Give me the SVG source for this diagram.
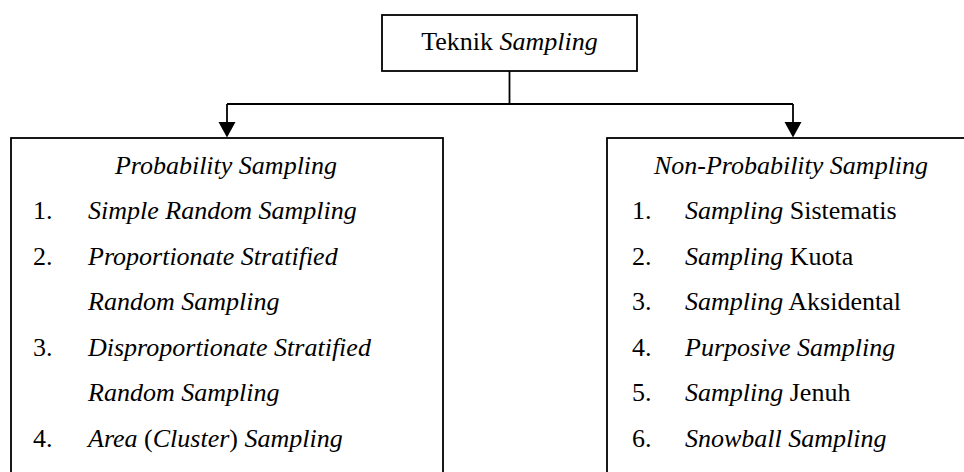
<svg xmlns="http://www.w3.org/2000/svg" width="964" height="472" viewBox="0 0 964 472">
<style>
text{font-family:"Liberation Serif","Times New Roman",serif;font-size:26px;fill:#000}
.i{font-style:italic}
.box{fill:#fff;stroke:#000;stroke-width:1.8}
.ln{fill:none;stroke:#000;stroke-width:1.8}
.ah{fill:#000}
</style>
<g id="connectors">
<path class="ln" d="M509.5,71 V104"/>
<path class="ln" d="M227,104 H793"/>
<path class="ln" d="M227,104 V123"/>
<path class="ln" d="M793,104 V123"/>
<path class="ah" d="M218.5,122 L235.5,122 L227,137.5 Z"/>
<path class="ah" d="M784.5,122 L801.5,122 L793,137.5 Z"/>
</g>
<g id="root">
<rect class="box" x="382" y="15" width="255" height="56"/>
<text x="509.5" y="50" text-anchor="middle">Teknik <tspan class="i">Sampling</tspan></text>
</g>
<g id="probability">
<rect class="box" x="11" y="138" width="432" height="350"/>
<text class="i" x="226" y="174" text-anchor="middle">Probability Sampling</text>
<text x="33" y="219">1.</text><text class="i" x="88" y="219">Simple Random Sampling</text>
<text x="33" y="264.5">2.</text><text class="i" x="88" y="264.5">Proportionate Stratified</text>
<text class="i" x="88" y="310">Random Sampling</text>
<text x="33" y="355.5">3.</text><text class="i" x="88" y="355.5">Disproportionate Stratified</text>
<text class="i" x="88" y="401">Random Sampling</text>
<text x="33" y="446.5">4.</text><text x="88" y="446.5"><tspan class="i">Area</tspan> (<tspan class="i">Cluster</tspan>) <tspan class="i">Sampling</tspan></text>
</g>
<g id="nonprobability">
<rect class="box" x="607" y="138" width="372" height="350"/>
<text class="i" x="791" y="174" text-anchor="middle">Non-Probability Sampling</text>
<text x="632" y="219">1.</text><text x="685" y="219"><tspan class="i">Sampling</tspan> Sistematis</text>
<text x="632" y="264.5">2.</text><text x="685" y="264.5"><tspan class="i">Sampling</tspan> Kuota</text>
<text x="632" y="310">3.</text><text x="685" y="310"><tspan class="i">Sampling</tspan> Aksidental</text>
<text x="632" y="355.5">4.</text><text class="i" x="685" y="355.5">Purposive Sampling</text>
<text x="632" y="401">5.</text><text x="685" y="401"><tspan class="i">Sampling</tspan> Jenuh</text>
<text x="632" y="446.5">6.</text><text class="i" x="685" y="446.5">Snowball Sampling</text>
</g>
</svg>
